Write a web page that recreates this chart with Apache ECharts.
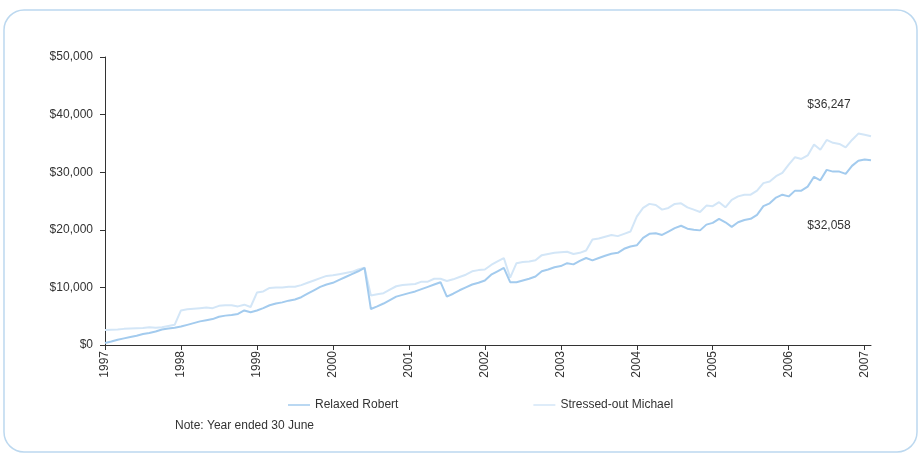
<!DOCTYPE html>
<html>
<head>
<meta charset="utf-8">
<script src="https://cdn.jsdelivr.net/npm/echarts@6/dist/echarts.min.js"></script>
<style>
  html, body { margin: 0; padding: 0; background: #ffffff; }
  #chart { width: 921px; height: 453px; }
</style>
</head>
<body>
<div id="chart"></div>
<script>
// Financial years shown on the horizontal axis (one tick every 12 months)
const yearLabels = ['1997', '1998', '1999', '2000', '2001', '2002', '2003', '2004', '2005', '2006', '2007'];
const monthsPerYear = 12;
const monthCount = 122;

// Monthly balances ($)
const robertValues = [
  350, 600, 900, 1150, 1400, 1600, 1900, 2100, 2350, 2700, 2850, 3000,
  3200, 3500, 3800, 4100, 4300, 4500, 4900, 5100, 5200, 5400, 6000, 5700,
  6000, 6400, 6900, 7200, 7400, 7700, 7900, 8300, 8900, 9500, 10100, 10500,
  10800, 11300, 11800, 12300, 12800, 13400, 6250, 6700, 7200, 7800, 8400, 8700,
  9000, 9300, 9700, 10100, 10500, 10900, 8400, 8900, 9500, 10000, 10500, 10800,
  11200, 12200, 12800, 13400, 10900, 10900, 11200, 11500, 11900, 12800, 13100, 13500,
  13700, 14200, 14000, 14600, 15100, 14700, 15100, 15500, 15850, 16000, 16700, 17100,
  17300, 18600, 19300, 19400, 19100, 19700, 20300, 20700, 20200, 20000, 19900, 20900,
  21200, 21900, 21300, 20500, 21300, 21700, 21900, 22600, 24100, 24600, 25600, 26100,
  25800, 26800, 26800, 27500, 29200, 28600, 30400, 30100, 30100, 29700, 31100, 32000,
  32200, 32058
];
const michaelValues = [
  2600, 2650, 2700, 2800, 2850, 2900, 2950, 3100, 3000, 3100, 3300, 3500,
  6000, 6200, 6300, 6400, 6500, 6400, 6800, 6900, 6900, 6700, 7000, 6600,
  9100, 9300, 9900, 10000, 10000, 10100, 10100, 10400, 10800, 11200, 11600, 12000,
  12100, 12300, 12500, 12700, 13100, 13400, 8600, 8800, 9000, 9600, 10200, 10400,
  10500, 10600, 11000, 11000, 11500, 11500, 11100, 11400, 11800, 12200, 12800, 13000,
  13100, 13900, 14500, 15100, 11700, 14200, 14400, 14500, 14700, 15600, 15800, 16000,
  16100, 16200, 15800, 16000, 16400, 18300, 18500, 18800, 19100, 18900, 19300, 19700,
  22300, 23800, 24500, 24300, 23500, 23800, 24500, 24600, 23900, 23500, 23100, 24200,
  24100, 24800, 23900, 25200, 25800, 26100, 26100, 26800, 28100, 28400, 29300, 29900,
  31300, 32600, 32300, 32900, 34800, 33900, 35600, 35100, 34900, 34300, 35600, 36700,
  36500, 36247
];

const seriesNames = ['Relaxed Robert', 'Stressed-out Michael'];
const yTicks = { min: 0, max: 50000, interval: 10000 };
const noteText = 'Note: Year ended 30 June';

// One category per month; only the first month of each year carries a label
const categories = [];
for (let i = 0; i < monthCount; i++) {
  const y = yearLabels[0] * 1 + Math.floor(i / monthsPerYear);
  categories.push(y + '-' + String(i % monthsPerYear + 1).padStart(2, '0'));
}

const money = v => '$' + Math.round(v).toLocaleString('en-US');
const textFont = "'Liberation Sans', Arial, sans-serif";
const textColor = '#333333';
const robertColor = '#a3cbee';
const michaelColor = '#d3e6f7';
const isYearStart = idx => idx % monthsPerYear === 0;
const last = monthCount - 1;

const chart = echarts.init(document.getElementById('chart'), null, { renderer: 'canvas' });

chart.setOption({
  animation: false,
  backgroundColor: '#ffffff',
  textStyle: { fontFamily: textFont, color: textColor },
  grid: { left: 105, right: 50, top: 57, bottom: 108 },
  legend: {
    data: seriesNames,
    icon: 'rect',
    left: 283,
    top: 394,
    itemGap: 135,
    itemWidth: 22,
    itemHeight: 1.5,
    textStyle: { fontFamily: textFont, fontSize: 12, color: textColor }
  },
  graphic: [
    {
      type: 'rect',
      silent: true,
      z: -10,
      shape: { x: 4, y: 10, width: 913, height: 442, r: 20 },
      style: { fill: 'none', stroke: '#bcd8ef', lineWidth: 1.5 }
    },
    {
      type: 'text',
      left: 175,
      top: 420,
      style: { text: noteText, font: '12px ' + textFont, fill: textColor }
    }
  ],
  xAxis: {
    type: 'category',
    data: categories,
    boundaryGap: false,
    axisLine: { show: true, lineStyle: { color: '#333333', width: 1 } },
    axisTick: { show: true, length: 5, interval: isYearStart, lineStyle: { color: '#333333' } },
    axisLabel: {
      interval: isYearStart,
      rotate: 90,
      margin: 6,
      fontSize: 12,
      color: textColor,
      fontFamily: textFont,
      formatter: (val, idx) => yearLabels[idx / monthsPerYear]
    },
    splitLine: { show: false }
  },
  yAxis: {
    type: 'value',
    min: yTicks.min,
    max: yTicks.max,
    interval: yTicks.interval,
    axisLine: { show: true, lineStyle: { color: '#333333', width: 1 } },
    axisTick: { show: true, length: 5, lineStyle: { color: '#333333' } },
    axisLabel: { margin: 12, fontSize: 12, color: textColor, fontFamily: textFont, formatter: money },
    splitLine: { show: false }
  },
  series: [
    {
      name: seriesNames[0],
      type: 'line',
      data: robertValues,
      symbol: 'none',
      color: robertColor,
      lineStyle: { color: robertColor, width: 2 },
      z: 3,
      markPoint: {
        symbol: 'circle',
        symbolSize: 0,
        data: [{ coord: [last, robertValues[last]], value: robertValues[last] }],
        label: {
          show: true,
          position: 'inside',
          offset: [-42, 65],
          formatter: p => money(p.value),
          fontSize: 12,
          color: textColor,
          fontFamily: textFont
        }
      }
    },
    {
      name: seriesNames[1],
      type: 'line',
      data: michaelValues,
      symbol: 'none',
      color: michaelColor,
      lineStyle: { color: michaelColor, width: 2 },
      z: 2,
      markPoint: {
        symbol: 'circle',
        symbolSize: 0,
        data: [{ coord: [last, michaelValues[last]], value: michaelValues[last] }],
        label: {
          show: true,
          position: 'inside',
          offset: [-42, -32],
          formatter: p => money(p.value),
          fontSize: 12,
          color: textColor,
          fontFamily: textFont
        }
      }
    }
  ]
});
</script>
</body>
</html>
